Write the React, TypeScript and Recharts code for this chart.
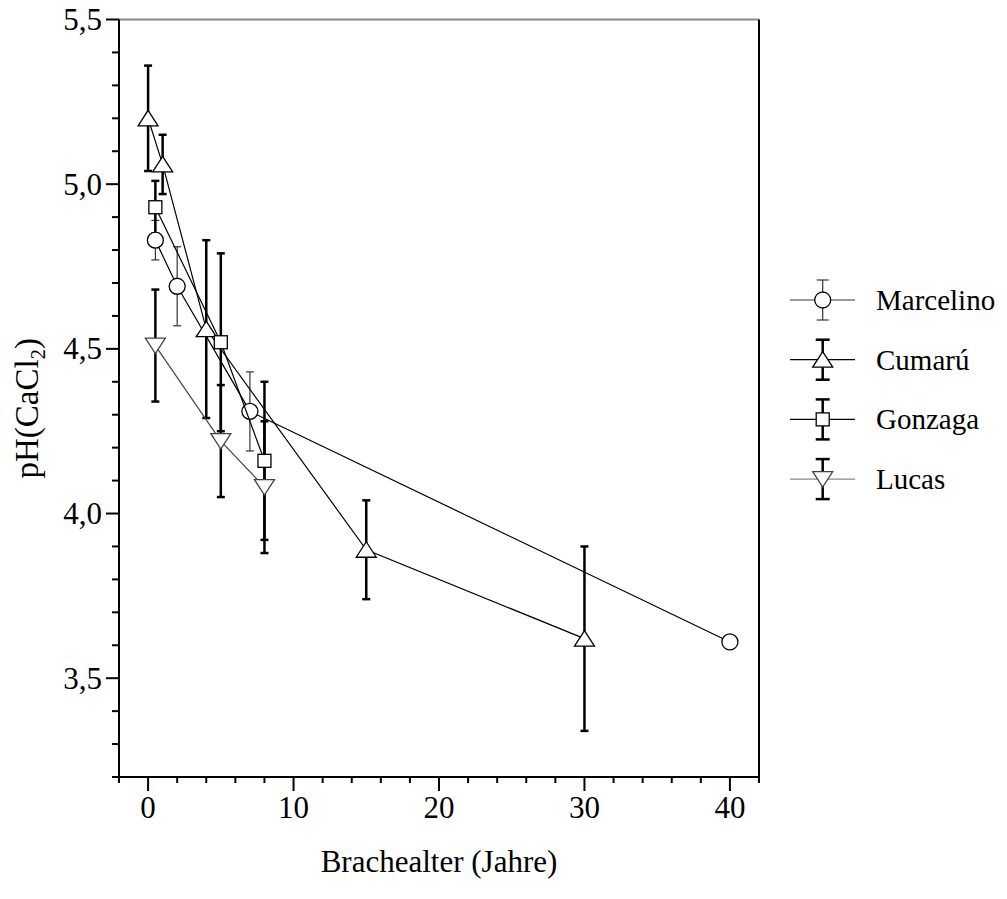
import React from 'react';
import {
    ScatterChart,
    Scatter,
    XAxis,
    YAxis,
    ErrorBar,
    Legend,
    ReferenceLine,
    Label,
} from 'recharts';

// fallow age (years), soil pH and standard deviation per site
const marcelinoAge = [0.5, 2, 7, 40];
const marcelinoPh = [4.83, 4.69, 4.31, 3.61];
const marcelinoSd = [0.06, 0.12, 0.12, 0];

const cumaruAge = [0, 1, 4, 15, 30];
const cumaruPh = [5.2, 5.06, 4.56, 3.89, 3.62];
const cumaruSd = [0.16, 0.09, 0.27, 0.15, 0.28];

const gonzagaAge = [0.5, 5, 8];
const gonzagaPh = [4.93, 4.52, 4.16];
const gonzagaSd = [0.08, 0.27, 0.24];

const lucasAge = [0.5, 5, 8];
const lucasPh = [4.51, 4.22, 4.08];
const lucasSd = [0.17, 0.17, 0.2];

const xTicks = [-2, 0, 2, 4, 6, 8, 10, 12, 14, 16, 18, 20, 22, 24, 26, 28, 30, 32, 34, 36, 38, 40, 42];
const xMajor = [0, 10, 20, 30, 40];
const yTicks = [3.2, 3.3, 3.4, 3.5, 3.6, 3.7, 3.8, 3.9, 4.0, 4.1, 4.2, 4.3, 4.4, 4.5, 4.6, 4.7, 4.8, 4.9, 5.0, 5.1, 5.2, 5.3, 5.4, 5.5];
const yMajor = [3.5, 4.0, 4.5, 5.0, 5.5];

const FONT = '"Liberation Serif", "Times New Roman", serif';

const toRows = (ages: number[], ph: number[], sd: number[]) =>
    ages.map((x, i) => ({ x, y: ph[i], sd: sd[i] }));

type Kind = 'circle' | 'triangle' | 'square' | 'triangleDown';

const Marker = ({ kind, cx, cy, stroke }: { kind: Kind; cx: number; cy: number; stroke: string }) => {
    const common = { fill: '#fff', stroke, strokeWidth: 1.3 };
    switch (kind) {
        case 'circle':
            return <circle cx={cx} cy={cy} r={8} {...common} />;
        case 'triangle':
            return <polygon points={`${cx},${cy - 8} ${cx + 10},${cy + 7.5} ${cx - 10},${cy + 7.5}`} {...common} />;
        case 'square':
            return <rect x={cx - 6.5} y={cy - 6.5} width={13} height={13} {...common} />;
        default:
            return <polygon points={`${cx - 10},${cy - 7.5} ${cx + 10},${cy - 7.5} ${cx},${cy + 8}`} {...common} />;
    }
};

const series = [
    { name: 'Marcelino', data: toRows(marcelinoAge, marcelinoPh, marcelinoSd), kind: 'circle' as Kind, line: '#000', legendLine: '#333', mark: '#000', bar: '#333', barWidth: 1.2 },
    { name: 'Cumarú', data: toRows(cumaruAge, cumaruPh, cumaruSd), kind: 'triangle' as Kind, line: '#000', legendLine: '#000', mark: '#000', bar: '#000', barWidth: 2.5 },
    { name: 'Gonzaga', data: toRows(gonzagaAge, gonzagaPh, gonzagaSd), kind: 'square' as Kind, line: '#000', legendLine: '#000', mark: '#000', bar: '#000', barWidth: 2.5 },
    { name: 'Lucas', data: toRows(lucasAge, lucasPh, lucasSd), kind: 'triangleDown' as Kind, line: '#444', legendLine: '#888', mark: '#444', bar: '#000', barWidth: 2.5 },
];

const YTick = (props: any) => {
    const { x, y, payload } = props;
    const major = yMajor.some((v) => Math.abs(v - payload.value) < 1e-6);
    return (
        <g>
            <line x1={x} y1={y} x2={x - (major ? 13 : 7)} y2={y} stroke="#000" strokeWidth={2} />
            {major && (
                <text x={x - 17} y={y} dy="0.34em" textAnchor="end" fontSize={31} fontFamily={FONT} fill="#000">
                    {payload.value.toFixed(1).replace('.', ',')}
                </text>
            )}
        </g>
    );
};

const XTick = (props: any) => {
    const { x, y, payload } = props;
    const major = xMajor.includes(payload.value);
    return (
        <g>
            <line x1={x} y1={y} x2={x} y2={y + (major ? 14 : 6)} stroke="#000" strokeWidth={2} />
            {major && (
                <text x={x} y={y + 41} textAnchor="middle" fontSize={31} fontFamily={FONT} fill="#000">
                    {payload.value}
                </text>
            )}
        </g>
    );
};

const LegendBox = () => (
    <svg width={256} height={240}>
        {series.map((s, i) => {
            const y = 32 + i * 59.7;
            const cx = 63.7;
            const cap = s.barWidth > 2 ? 7 : 6;
            return (
                <g key={s.name}>
                    <line x1={31} y1={y} x2={96} y2={y} stroke={s.legendLine} strokeWidth={1.2} />
                    <line x1={cx} y1={y - 20} x2={cx} y2={y + 20} stroke={s.bar} strokeWidth={s.barWidth} />
                    <line x1={cx - cap} y1={y - 20} x2={cx + cap} y2={y - 20} stroke={s.bar} strokeWidth={s.barWidth} />
                    <line x1={cx - cap} y1={y + 20} x2={cx + cap} y2={y + 20} stroke={s.bar} strokeWidth={s.barWidth} />
                    <Marker kind={s.kind} cx={cx} cy={y} stroke={s.mark} />
                    <text x={117} y={y} dy="0.34em" fontSize={29} fontFamily={FONT} fill="#000">
                        {s.name}
                    </text>
                </g>
            );
        })}
    </svg>
);

const YTitle = (props: any) => {
    const vb = props.viewBox;
    const cx = vb.x + 30;
    const cy = vb.y + vb.height / 2 + 10;
    return (
        <text x={cx} y={cy} transform={`rotate(-90 ${cx} ${cy})`} textAnchor="middle" fontSize={33} fontFamily={FONT} fill="#000">
            pH(CaCl<tspan dy={7} fontSize={21}>2</tspan>
            <tspan dy={-7}>)</tspan>
        </text>
    );
};

const XTitle = (props: any) => {
    const vb = props.viewBox;
    return (
        <text x={vb.x + vb.width / 2} y={vb.y + 95} textAnchor="middle" fontSize={31} fontFamily={FONT} fill="#000">
            Brachealter (Jahre)
        </text>
    );
};

const App = () => {
    return (
        <div style={{ marginTop: -8 }}>
            <ScatterChart width={999} height={893} margin={{ top: 19.5, right: 0, bottom: 0, left: 0 }}>
                <XAxis
                    type="number"
                    dataKey="x"
                    domain={[-2, 42]}
                    ticks={xTicks}
                    interval={0}
                    allowDataOverflow
                    tickSize={0}
                    tickMargin={0}
                    tickLine={false}
                    tick={<XTick />}
                    axisLine={{ stroke: '#000', strokeWidth: 2 }}
                    height={116}
                >
                    <Label content={<XTitle />} />
                </XAxis>
                <YAxis
                    type="number"
                    dataKey="y"
                    domain={[3.2, 5.5]}
                    ticks={yTicks}
                    interval={0}
                    allowDataOverflow
                    tickSize={0}
                    tickMargin={0}
                    tickLine={false}
                    tick={<YTick />}
                    axisLine={{ stroke: '#000', strokeWidth: 2 }}
                    width={111}
                >
                    <Label content={<YTitle />} />
                </YAxis>
                <ReferenceLine y={5.5} stroke="#888" strokeWidth={2} />
                <ReferenceLine x={42} stroke="#000" strokeWidth={2} />
                <Legend
                    layout="vertical"
                    align="right"
                    verticalAlign="top"
                    wrapperStyle={{ position: 'absolute', left: 751, top: 268, width: 248, height: 240, overflow: 'visible' }}
                    content={() => <LegendBox />}
                />
                {series.map((s) => (
                    <Scatter
                        key={s.name}
                        name={s.name}
                        data={s.data}
                        fill="#fff"
                        line={{ stroke: s.line, strokeWidth: 1.2 }}
                        isAnimationActive={false}
                        shape={(p: any) => <Marker kind={s.kind} cx={p.cx} cy={p.cy} stroke={s.mark} />}
                    >
                        <ErrorBar dataKey="sd" direction="y" width={4} stroke={s.bar} strokeWidth={s.barWidth} isAnimationActive={false} />
                    </Scatter>
                ))}
            </ScatterChart>
        </div>
    );
};

export default App;
